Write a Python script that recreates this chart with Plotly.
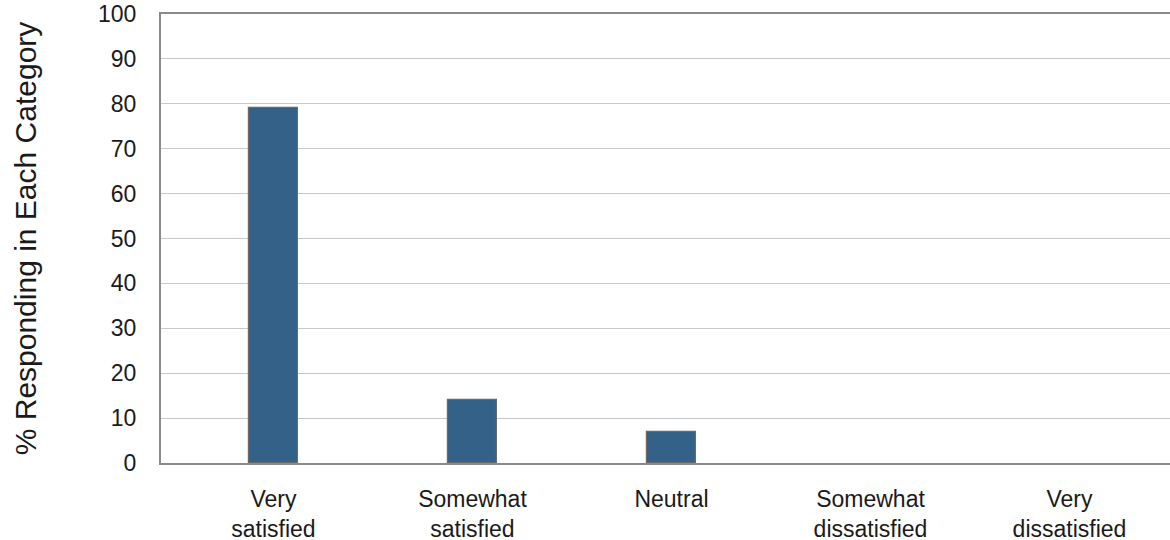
import plotly.graph_objects as go

categories = ["Very<br>satisfied", "Somewhat<br>satisfied", "Neutral", "Somewhat<br>dissatisfied", "Very<br>dissatisfied"]
values = [79.0, 14.0, 6.8, 0, 0]
y_ticks = [0, 10, 20, 30, 40, 50, 60, 70, 80, 90, 100]

fig = go.Figure()
fig.add_trace(go.Bar(
    x=list(range(len(categories))),
    y=values,
    width=0.25,
    marker=dict(color="#336187",
                line=dict(color="#6a6a6a", width=[1.2 if v > 0 else 0 for v in values])),
))

font_family = "Liberation Sans, Arial, sans-serif"
fig.update_layout(
    width=1170, height=540,
    margin=dict(l=161, r=0, t=14, b=77),
    paper_bgcolor="white", plot_bgcolor="white",
    showlegend=False,
    font=dict(family=font_family, size=23, color="#111111"),
    bargap=0,
)
fig.update_xaxes(
    range=[-0.565, 4.505],
    automargin=False,
    tickmode="array",
    tickvals=list(range(len(categories))),
    ticktext=categories,
    showline=True, linecolor="#8a8a8a", linewidth=2,
    mirror=True,
    showgrid=False, zeroline=False,
    ticks="outside", ticklen=14, tickcolor="rgba(0,0,0,0)",
    tickfont=dict(size=23, color="#1a1a1a"),
)
fig.update_yaxes(
    range=[0, 100],
    automargin=False,
    tickmode="array",
    tickvals=y_ticks,
    showline=True, linecolor="#8a8a8a", linewidth=2,
    showgrid=True, gridcolor="#c8c8c8", gridwidth=1,
    zeroline=False,
    ticks="outside", ticklen=18, tickcolor="rgba(0,0,0,0)",
    tickfont=dict(size=23, color="#1a1a1a"),
    title=dict(text="% Responding in Each Category", font=dict(size=30, color="#1a1a1a"), standoff=53),
)

fig.write_html("out.html")
